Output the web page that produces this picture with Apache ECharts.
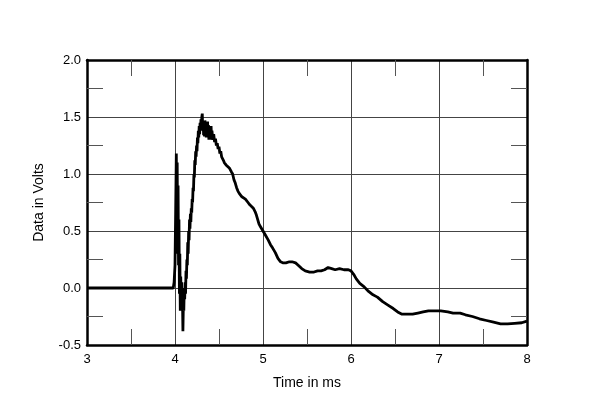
<!DOCTYPE html>
<html><head><meta charset="utf-8">
<script src="https://cdn.jsdelivr.net/npm/echarts@6/dist/echarts.min.js"></script>
<style>html,body{margin:0;padding:0;background:#fff}#c{width:600px;height:406px}</style>
</head><body><div id="c"></div>
<script>
const xTickLabels = ['3','4','5','6','7','8'];
const yTickLabels = ['-0.5','0.0','0.5','1.0','1.5','2.0'];
const times = [3.0,3.98,3.99,4.0,4.008,4.015,4.02,4.025,4.03,4.035,4.04,4.045,4.05,4.055,4.06,4.065,4.07,4.075,4.08,4.085,4.09,4.095,4.10,4.105,4.11,4.115,4.12,4.125,4.13,4.135,4.14,4.145,4.15,4.155,4.16,4.165,4.17,4.175,4.18,4.185,4.19,4.195,4.20,4.205,4.21,4.215,4.22,4.225,4.23,4.235,4.24,4.245,4.25,4.255,4.26,4.265,4.27,4.275,4.28,4.285,4.29,4.295,4.30,4.305,4.31,4.315,4.32,4.325,4.33,4.335,4.34,4.345,4.35,4.355,4.36,4.365,4.37,4.375,4.38,4.385,4.39,4.395,4.40,4.405,4.41,4.415,4.42,4.43,4.44,4.45,4.46,4.47,4.48,4.49,4.50,4.51,4.52,4.53,4.54,4.55,4.56,4.57,4.58,4.60,4.62,4.64,4.655,4.67,4.685,4.70,4.715,4.73,4.745,4.76,4.78,4.80,4.83,4.85,4.87,4.89,4.91,4.925,4.94,4.955,4.97,4.985,5.0,5.03,5.06,5.085,5.11,5.14,5.17,5.2,5.23,5.26,5.3,5.33,5.37,5.40,5.44,5.48,5.53,5.58,5.62,5.66,5.70,5.74,5.78,5.82,5.87,5.92,5.97,6.0,6.03,6.06,6.1,6.15,6.2,6.25,6.3,6.36,6.42,6.48,6.53,6.58,6.64,6.7,6.76,6.82,6.88,6.95,7.02,7.1,7.16,7.24,7.3,7.38,7.46,7.54,7.62,7.7,7.78,7.86,7.94,8.0];
const volts = [0,0,0.05,0.2,0.7,1.18,0.4,1.1,0.3,0.9,0.2,0.6,-0.05,0.3,-0.2,0.1,-0.05,0.05,-0.2,-0.1,-0.38,-0.15,-0.2,0.0,-0.1,0.05,-0.05,0.15,0.08,0.25,0.2,0.4,0.3,0.5,0.42,0.6,0.52,0.65,0.58,0.7,0.66,0.78,0.75,0.88,0.85,1.0,0.97,1.12,1.08,1.2,1.15,1.25,1.2,1.32,1.27,1.38,1.32,1.42,1.35,1.45,1.38,1.48,1.4,1.5,1.53,1.38,1.47,1.34,1.45,1.33,1.47,1.36,1.44,1.32,1.43,1.35,1.46,1.33,1.43,1.3,1.41,1.32,1.39,1.3,1.42,1.31,1.38,1.3,1.35,1.28,1.31,1.25,1.27,1.22,1.24,1.18,1.2,1.15,1.14,1.12,1.1,1.1,1.08,1.08,1.05,1.02,1.0,0.95,0.92,0.88,0.85,0.83,0.82,0.80,0.79,0.78,0.75,0.73,0.72,0.70,0.67,0.64,0.6,0.56,0.54,0.52,0.5,0.46,0.42,0.38,0.35,0.31,0.26,0.23,0.22,0.22,0.23,0.23,0.22,0.2,0.17,0.15,0.14,0.14,0.15,0.15,0.16,0.18,0.17,0.16,0.17,0.16,0.16,0.15,0.12,0.08,0.04,0.01,-0.03,-0.06,-0.08,-0.12,-0.15,-0.18,-0.21,-0.23,-0.23,-0.23,-0.22,-0.21,-0.2,-0.2,-0.2,-0.21,-0.22,-0.22,-0.235,-0.25,-0.27,-0.285,-0.3,-0.315,-0.315,-0.31,-0.305,-0.29];

const chart = echarts.init(document.getElementById('c'), null, {renderer:'canvas'});
const font = 'Liberation Sans, Arial, sans-serif';
const tickCol = '#555';
const gridCol = '#444';
function xAx(pos, show){
  return {
    type:'value', min:3, max:8, interval:1, position:pos, gridIndex:0,
    axisLine:{show:true, onZero:false, lineStyle:{color:'#000', width:2.5}},
    axisTick:{show:false, inside:true},
    minorTick:{show:true, splitNumber:2, length:16, lineStyle:{color:tickCol, width:1}},
    axisLabel:{show:show, color:'#000', fontFamily:font, fontSize:13, margin:8,
      formatter:v=>xTickLabels[Math.round(v-3)]},
    splitLine:{show:show, lineStyle:{color:gridCol, width:1}},
    name: show ? 'Time in ms' : '', nameLocation:'middle', nameGap:31,
    nameTextStyle:{color:'#000', fontFamily:font, fontSize:14}
  };
}
function yAx(pos, show){
  return {
    type:'value', min:-0.5, max:2.0, interval:0.5, position:pos, gridIndex:0,
    axisLine:{show:true, onZero:false, lineStyle:{color:'#000', width:2.5}},
    axisTick:{show:false, inside:true},
    minorTick:{show:true, splitNumber:2, length:16, lineStyle:{color:tickCol, width:1}},
    axisLabel:{show:show, color:'#000', fontFamily:font, fontSize:13, margin:6,
      formatter:v=>yTickLabels[Math.round((v+0.5)/0.5)]},
    splitLine:{show:show, lineStyle:{color:gridCol, width:1}},
    name: show ? 'Data in Volts' : '', nameLocation:'middle', nameGap:41,
    nameTextStyle:{color:'#000', fontFamily:font, fontSize:14}
  };
}
chart.setOption({
  animation:false,
  backgroundColor:'#fff',
  grid:{left:87, right:73, top:60, bottom:61, containLabel:false},
  xAxis:[xAx('bottom', true), xAx('top', false)],
  yAxis:[yAx('left', true), yAx('right', false)],
  series:[{
    type:'line', xAxisIndex:0, yAxisIndex:0, showSymbol:false, symbol:'none',
    lineStyle:{color:'#000', width:2.8}, z:5,
    data: times.map((t,i)=>[t, volts[i]])
  }]
});
</script></body></html>
